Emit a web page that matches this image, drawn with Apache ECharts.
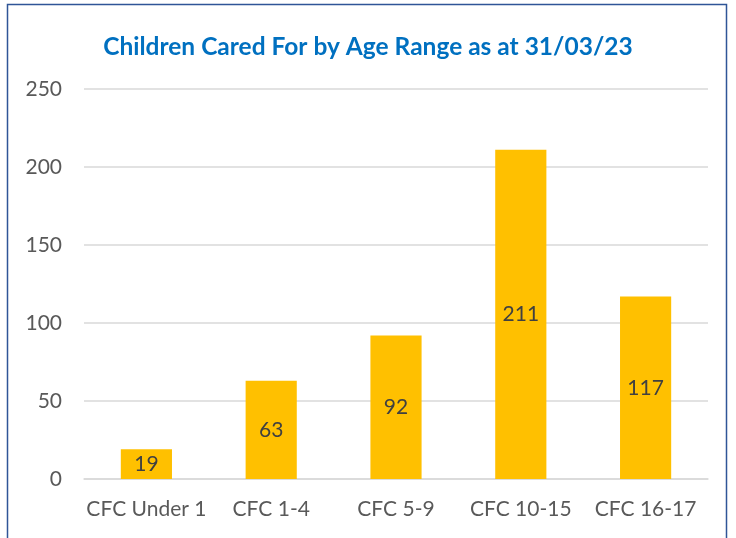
<!DOCTYPE html>
<html lang="en">

<head>
    <meta charset="UTF-8">
    <title>Children Cared For</title>
    <script type="text/javascript" src="https://cdn.jsdelivr.net/npm/echarts@6/dist/echarts.min.js"></script>
    <style>
        html, body { margin: 0; padding: 0; background: #fff; }
        .zhu { width: 736px; height: 538px; }
    </style>
</head>

<body>
    <div class="zhu"></div>
</body>
<script>
    // data
    let categories = ['CFC Under 1', 'CFC 1-4', 'CFC 5-9', 'CFC 10-15', 'CFC 16-17']
    let children = [19, 63, 92, 211, 117]
    let yTicks = { min: 0, max: 250, interval: 50 }

    let mCharts = echarts.init(document.querySelector('.zhu'))
    let option = {
        animation: false,
        textStyle: { fontFamily: 'Lato, "Open Sans", sans-serif' },
        title: {
            text: 'Children Cared For by Age Range as at 31/03/23',
            left: 'center',
            top: 30,
            textStyle: { color: '#0070C0', fontSize: 24.5, fontWeight: 'bold' }
        },
        // outer chart border, bottom edge falls off the picture
        graphic: [{
            type: 'rect',
            shape: { x: 7.5, y: 4.5, width: 719, height: 600 },
            style: { fill: 'none', stroke: '#2F5597', lineWidth: 1.5 },
            silent: true
        }],
        grid: { left: 84, right: 28, top: 89, bottom: 59 },
        xAxis: {
            type: 'category',
            data: categories,
            axisLine: { lineStyle: { color: '#d9d9d9', width: 1.5 } },
            axisTick: { show: false },
            axisLabel: { color: '#595959', fontSize: 21, margin: 20, interval: 0 }
        },
        yAxis: {
            type: 'value',
            min: yTicks.min,
            max: yTicks.max,
            interval: yTicks.interval,
            axisLine: { show: false },
            axisTick: { show: false },
            axisLabel: { color: '#595959', fontSize: 21, margin: 22 },
            splitLine: { lineStyle: { color: '#d9d9d9', width: 1.5 } }
        },
        series: [{
            type: 'bar',
            data: children,
            barWidth: '41%',
            itemStyle: { color: '#FFC000' },
            label: {
                show: true,
                position: 'inside',
                color: '#404040',
                fontSize: 21
            }
        }]
    };
    mCharts.setOption(option)
</script>

</html>
